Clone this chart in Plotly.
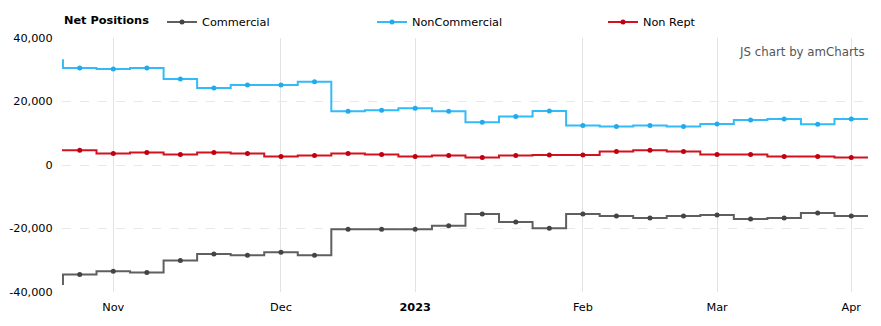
import datetime as dt
import plotly.graph_objects as go

# ---- data (weekly, Tuesdays) ----
start_date = dt.datetime(2022, 10, 25)
n_weeks = 24
dates = [start_date + dt.timedelta(days=7 * i) for i in range(n_weeks)]

# value of the week before the first visible week (only visible as the step at the left edge)
prior_commercial = -37500
prior_noncommercial = 33000
prior_nonrept = 4660

commercial = [-34500, -33440, -33860, -30060, -28030, -28460, -27510, -28460,
              -20210, -20210, -20210, -19150, -15450, -17990, -19890, -15450,
              -16080, -16720, -16080, -15770, -17040, -16720, -15130, -16080]
noncommercial = [30570, 30260, 30570, 27080, 24220, 25180, 25180, 26240,
                 16930, 17250, 17880, 16930, 13430, 15240, 17040, 12480,
                 12160, 12480, 12160, 12910, 14180, 14500, 12800, 14500]
nonrept = [4660, 3600, 3910, 3280, 3910, 3600, 2640, 2960,
           3600, 3280, 2640, 2960, 2330, 2960, 3170, 3170,
           4230, 4660, 4230, 3280, 3280, 2640, 2640, 2330]

series_names = ["Commercial", "NonCommercial", "Non Rept"]
series_colors = ["#5f5f5f", "#33bbf7", "#d2131f"]
marker_colors = ["#444444", "#22aaee", "#c00010"]

month_ticks = [dt.datetime(2022, 11, 1), dt.datetime(2022, 12, 6), dt.datetime(2023, 1, 3),
               dt.datetime(2023, 2, 7), dt.datetime(2023, 3, 7), dt.datetime(2023, 4, 4)]
month_labels = ["Nov", "Dec", "<b>2023</b>", "Feb", "Mar", "Apr"]

y_tickvals = [-40000, -20000, 0, 20000, 40000]
y_ticktext = ["-40,000", "-20,000", "0", "20,000", "40,000"]

# ---- figure ----
W, H = 881, 326
ML, MR, MT, MB = 62, 13, 38, 34
PW, PH = W - ML - MR, H - MT - MB


def px_x(px):
    return (px - ML) / PW


def px_y(py):
    return (H - MB - py) / PH


week = dt.timedelta(days=7)
x_full = [dates[0] - week] + dates + [dates[-1] + week]

fig = go.Figure()
all_series = [(commercial, prior_commercial), (noncommercial, prior_noncommercial),
              (nonrept, prior_nonrept)]
for i, ((vals, prior), name) in enumerate(zip(all_series, series_names)):
    y_full = [prior] + vals + [vals[-1]]
    fig.add_trace(go.Scatter(
        x=x_full, y=y_full, name=name, mode="lines+markers",
        line=dict(color=series_colors[i], width=2, shape="hvh"),
        marker=dict(color=marker_colors[i], size=5),
        legend="legend" if i == 0 else f"legend{i + 1}",
        showlegend=True,
        cliponaxis=True,
    ))

font_family = "DejaVu Sans, Verdana, sans-serif"
legend_common = dict(orientation="h", xref="container", yref="container",
                     yanchor="middle", xanchor="left", bgcolor="rgba(0,0,0,0)",
                     font=dict(size=11.3, color="#000000", family=font_family),
                     itemclick=False, itemdoubleclick=False)

fig.update_layout(
    width=W, height=H,
    margin=dict(l=ML, r=MR, t=MT, b=MB, autoexpand=False),
    paper_bgcolor="white", plot_bgcolor="white",
    showlegend=True,
    font=dict(family=font_family, size=11, color="#000000"),
    legend=dict(x=162 / W, y=1 - 22 / H, **legend_common),
    legend2=dict(x=372 / W, y=1 - 22 / H, **legend_common),
    legend3=dict(x=603 / W, y=1 - 22 / H, **legend_common),
    xaxis=dict(
        type="date",
        range=[dates[0] - dt.timedelta(days=3.7), dates[-1] + dt.timedelta(days=3.5)],
        tickmode="array", tickvals=month_ticks, ticktext=month_labels,
        showgrid=True, gridcolor="#e3e3e3", gridwidth=1,
        showline=False, zeroline=False,
        ticks="outside", ticklen=4, tickcolor="rgba(0,0,0,0)",
        tickfont=dict(size=11.3, color="#000000"),
    ),
    yaxis=dict(
        range=[-40000, 40000],
        tickmode="array", tickvals=y_tickvals, ticktext=y_ticktext,
        showgrid=True, gridcolor="#e8e8e8", griddash="dash", gridwidth=1,
        showline=False, zeroline=False,
        ticks="outside", ticklen=6, tickcolor="rgba(0,0,0,0)",
        tickfont=dict(size=11.3, color="#000000"),
    ),
    annotations=[
        dict(text="<b>Net Positions</b>", xref="paper", yref="paper",
             x=px_x(62), y=px_y(21), xanchor="left", yanchor="middle",
             showarrow=False, font=dict(size=11.3, color="#000000")),
        dict(text="JS chart by amCharts", xref="paper", yref="paper",
             x=px_x(867), y=px_y(52), xanchor="right", yanchor="middle",
             showarrow=False, font=dict(size=11.8, color="#555555")),
    ],
    hovermode="x unified",
)

fig.write_html("out.html")
